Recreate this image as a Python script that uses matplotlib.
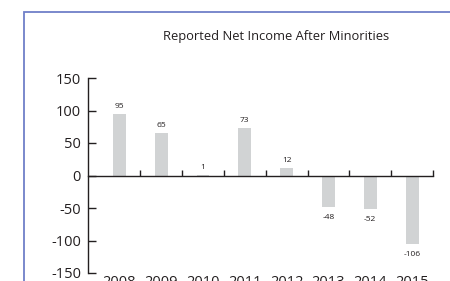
import matplotlib
matplotlib.use('Agg')
import matplotlib.pyplot as plt
from matplotlib.patches import Rectangle

# data
years = ['2008', '2009', '2010', '2011', '2012', '2013', '2014', '2015']
net_income = [95, 65, 1, 73, 12, -48, -52, -106]
y_ticks = [150, 100, 50, 0, -50, -100, -150]

BAR_COLOR = '#d1d3d4'
INK = '#231f20'
FRAME = '#6f7fc8'

plt.rcParams['font.family'] = ['Open Sans', 'DejaVu Sans']

fig = plt.figure(figsize=(4.5, 2.81), dpi=100)
fig.patch.set_facecolor('white')

# blue frame (runs off the right and bottom edges)
fig.patches.append(Rectangle((24 / 450, -0.2), 1.0, 1 - 12 / 281 + 0.2,
                             transform=fig.transFigure, fill=False,
                             edgecolor=FRAME, linewidth=1.3))

ax = fig.add_axes([88 / 450, 8 / 281, (433 - 88) / 450, 195 / 281])
x = list(range(len(years)))
bars = ax.bar(x, net_income, width=0.31, color=BAR_COLOR, zorder=1)

ax.set_xlim(-0.75, 7.5)
ax.set_ylim(-150, 150)

# value labels
for xi, v in zip(x, net_income):
    if v >= 0:
        ax.annotate(str(v), (xi, v), xytext=(0, 3), textcoords='offset points',
                    ha='center', va='bottom', fontsize=6, color=INK)
    else:
        ax.annotate(str(v), (xi, v), xytext=(0, -5), textcoords='offset points',
                    ha='center', va='top', fontsize=6, color=INK)

# axes styling
for side in ['top', 'right']:
    ax.spines[side].set_visible(False)
ax.spines['bottom'].set_position(('data', 0))
ax.spines['left'].set_color(INK)
ax.spines['bottom'].set_color(INK)
ax.spines['left'].set_linewidth(1.0)
ax.spines['bottom'].set_linewidth(1.0)
ax.spines['bottom'].set_zorder(3)

ax.set_yticks(y_ticks)
ax.set_yticklabels([str(t) for t in y_ticks])
ax.tick_params(axis='y', direction='in', length=6, width=1.0, color=INK,
               labelsize=10.5, labelcolor=INK, pad=5)

# x ticks between bars, pointing up, no labels
ax.set_xticks([i + 0.5 for i in x])
ax.tick_params(axis='x', direction='in', length=4, width=1.0, color=INK,
               labelbottom=False)

# year labels at the bottom of the plot area (cut by the edge, as in the source)
for xi, yr in zip(x, years):
    ax.text(xi, -0.01, yr, transform=ax.get_xaxis_transform(),
            ha='center', va='top', fontsize=10.5, color=INK)

fig.text(276 / 450, 1 - 40 / 281, 'Reported Net Income After Minorities',
         ha='center', va='baseline', fontsize=9.3, color=INK)

fig.savefig('out.png', dpi=100)
